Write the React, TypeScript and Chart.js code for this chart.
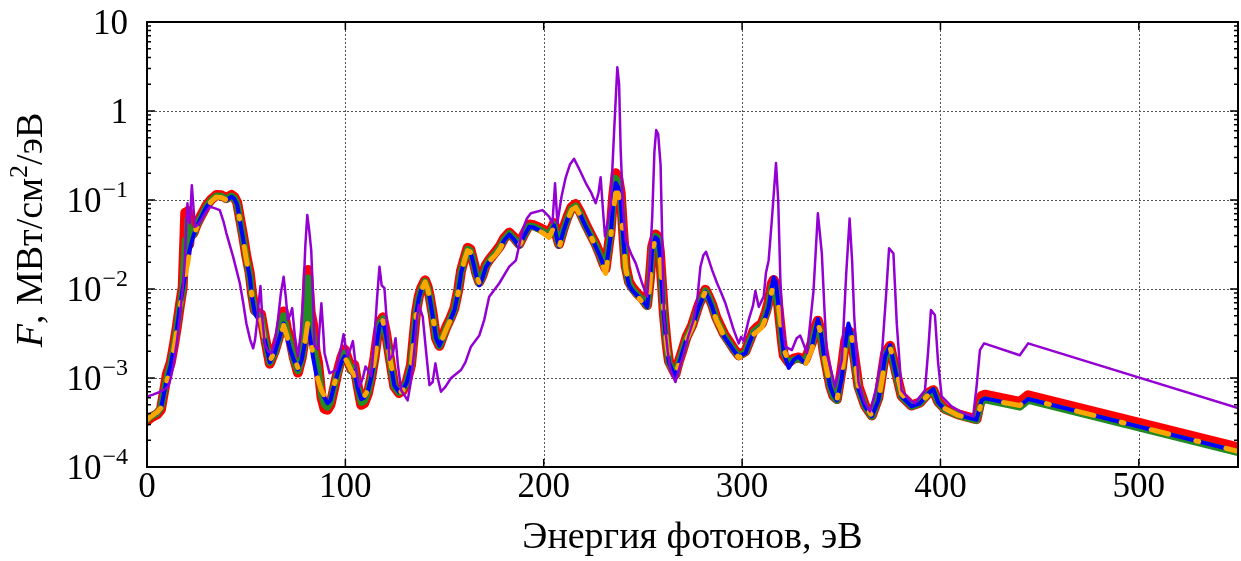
import React, { useEffect, useRef } from "react";
import { Chart, registerables } from "chart.js";

Chart.register(...registerables);

// ---------------- data ----------------
const energy = [
  0, 2, 5, 7, 9, 10, 12, 13.5, 15, 16.6,
  18, 19.3, 19.9, 20.6, 21.3, 22.1, 23.3, 25, 26.7, 28.5,
  30, 32.5, 35, 37.5, 40, 42.6, 44, 45.5, 47, 48.5,
  50, 51.8, 53, 54.3, 56, 57.5, 59.4, 61.9, 64.4, 66.9,
  68.9, 70.5, 71.9, 74, 76.1, 78, 79.5, 81.1, 82.5, 83.7,
  85, 86.2, 88, 89.5, 91, 92.5, 94.5, 96.2, 98, 99.6,
  101, 103, 104.5, 106.3, 108, 109.5, 111.3, 113, 114.7, 116,
  117.2, 118.9, 120.5, 122.2, 124.7, 127, 128.9, 131, 133.1, 134.5,
  135.7, 137, 138.2, 140.2, 141.5, 142.4, 144, 145.7, 147.4, 149,
  150.8, 153, 155, 157, 158.3, 160, 161.6, 163, 164.2, 166,
  167.5, 169, 170.8, 173, 175.9, 178, 180, 182.6, 185, 187.6,
  190, 192.7, 195, 197.7, 200, 202.7, 205.2, 206.5, 207.7, 210,
  211.9, 214, 216.1, 218.5, 221.2, 224, 226.2, 228.5, 230, 231.2,
  233.7, 235, 236.3, 237.5, 238.8, 240, 241.3, 243, 244.6, 247,
  249.6, 252.1, 253.5, 254.7, 256.4, 257.5, 258.5, 260.6, 262, 263.1,
  266.4, 268, 269.8, 272, 274.8, 278.2, 281.5, 283, 284.9, 287,
  289.1, 291, 293.3, 296, 298.3, 301.7, 304, 305.8, 308, 310,
  312, 313.4, 315, 315.9, 317, 318.4, 320, 321, 323.5, 326,
  328.5, 330, 331.9, 335.2, 337, 338.2, 339.5, 341.1, 344.4, 346,
  347.8, 350.3, 352, 353.6, 355, 356.2, 358.7, 362, 365.4, 368.7,
  370.5, 372.1, 374.6, 377.1, 380.4, 385.4, 389.7, 393.9, 396.4, 398.9,
  402.3, 409, 415.7, 418.2, 420.7, 422.4, 440, 444.2, 550,
];

const fluxRed = [
  3.3e-4, 3.6e-4, 3.9e-4, 4.4e-4, 8.0e-4, 1.1e-3, 1.5e-3, 2.3e-3, 3.7e-3, 6.6e-3,
  1.05e-2, 7.2e-2, 2.5e-2, 7.5e-2, 3.2e-2, 6.0e-2, 4.2e-2, 5.3e-2, 6.3e-2, 7.5e-2,
  8.7e-2, 0.102, 0.114, 0.113, 0.105, 0.114, 0.108, 0.093, 0.06, 0.039,
  0.024, 0.015, 8.8e-3, 5.8e-3, 5.4e-3, 5.2e-3, 2.9e-3, 1.45e-3, 2.0e-3, 3.1e-3,
  5.6e-3, 3.6e-3, 2.9e-3, 1.7e-3, 1.15e-3, 1.7e-3, 2.8e-3, 1.63e-2, 5.5e-3, 4.0e-3,
  2.0e-3, 1.5e-3, 6.0e-4, 4.5e-4, 4.4e-4, 5.0e-4, 8.0e-4, 1.2e-3, 1.7e-3, 2.1e-3,
  1.7e-3, 1.25e-3, 1.4e-3, 8.0e-4, 5.0e-4, 5.2e-4, 6.6e-4, 1.0e-3, 1.7e-3, 2.8e-3,
  4.2e-3, 4.8e-3, 3.2e-3, 1.8e-3, 8.0e-4, 6.8e-4, 7.2e-4, 9.2e-4, 1.4e-3, 3.0e-3,
  5.6e-3, 8.2e-3, 1.02e-2, 1.25e-2, 1.05e-2, 8.6e-3, 5.3e-3, 2.8e-3, 2.3e-3, 2.9e-3,
  3.7e-3, 4.7e-3, 6.1e-3, 1.0e-2, 1.6e-2, 2.2e-2, 2.9e-2, 2.8e-2, 2.2e-2, 1.5e-2,
  1.2e-2, 1.4e-2, 1.85e-2, 2.2e-2, 2.65e-2, 3.05e-2, 3.7e-2, 4.3e-2, 3.8e-2, 3.2e-2,
  4.1e-2, 5.3e-2, 5.2e-2, 4.9e-2, 4.6e-2, 4.2e-2, 5.5e-2, 4.0e-2, 3.2e-2, 4.8e-2,
  6.4e-2, 8.3e-2, 9.0e-2, 7.2e-2, 5.3e-2, 4.0e-2, 3.2e-2, 2.4e-2, 1.95e-2, 1.7e-2,
  4.5e-2, 0.11, 0.2, 0.18, 0.12, 4.5e-2, 1.8e-2, 1.2e-2, 1.05e-2, 9.0e-3,
  7.9e-3, 6.6e-3, 1.3e-2, 3.0e-2, 4.1e-2, 3.9e-2, 2.7e-2, 5.2e-3, 2.4e-3, 1.55e-3,
  1.1e-3, 1.5e-3, 2.0e-3, 2.9e-3, 3.9e-3, 6.7e-3, 9.8e-3, 8.4e-3, 6.7e-3, 4.8e-3,
  3.8e-3, 3.1e-3, 2.6e-3, 2.1e-3, 1.8e-3, 2.0e-3, 2.7e-3, 3.4e-3, 3.8e-3, 4.1e-3,
  5.5e-3, 7.2e-3, 1.15e-2, 1.26e-2, 1.15e-2, 6.0e-3, 2.7e-3, 1.8e-3, 1.5e-3, 1.65e-3,
  1.7e-3, 1.65e-3, 1.6e-3, 2.5e-3, 3.8e-3, 4.4e-3, 3.5e-3, 2.0e-3, 8.2e-4, 6.3e-4,
  5.8e-4, 1.3e-3, 2.6e-3, 3.4e-3, 3.2e-3, 2.0e-3, 8.0e-4, 4.9e-4, 3.8e-4, 6.0e-4,
  1.1e-3, 1.9e-3, 2.3e-3, 1.3e-3, 6.3e-4, 4.9e-4, 5.3e-4, 6.8e-4, 7.3e-4, 5.4e-4,
  4.5e-4, 3.9e-4, 3.55e-4, 3.45e-4, 6.3e-4, 6.5e-4, 5.4e-4, 6.4e-4, 1.66e-4,
];

const fluxGreen = [
  3.4e-4, 3.7e-4, 4.0e-4, 4.6e-4, 7.8e-4, 1.0e-3, 1.45e-3, 2.2e-3, 3.6e-3, 6.4e-3,
  1.0e-2, 3.5e-2, 2.0e-2, 6.0e-2, 3.0e-2, 4.0e-2, 4.0e-2, 5.1e-2, 6.1e-2, 7.3e-2,
  8.5e-2, 0.1, 0.111, 0.11, 0.102, 0.111, 0.105, 0.09, 0.057, 0.037,
  0.023, 0.014, 8.3e-3, 5.6e-3, 5.0e-3, 4.9e-3, 2.8e-3, 1.5e-3, 1.9e-3, 3.0e-3,
  5.0e-3, 3.3e-3, 2.6e-3, 1.6e-3, 1.2e-3, 1.65e-3, 2.6e-3, 1.33e-2, 4.5e-3, 3.0e-3,
  1.7e-3, 1.3e-3, 6.5e-4, 5.0e-4, 4.7e-4, 5.3e-4, 8.3e-4, 1.15e-3, 1.6e-3, 1.9e-3,
  1.6e-3, 1.2e-3, 1.3e-3, 7.8e-4, 5.3e-4, 5.5e-4, 6.8e-4, 1.0e-3, 1.65e-3, 2.7e-3,
  4.0e-3, 4.6e-3, 3.1e-3, 1.75e-3, 8.0e-4, 6.9e-4, 7.3e-4, 9.0e-4, 1.35e-3, 2.9e-3,
  5.4e-3, 8.0e-3, 9.9e-3, 1.22e-2, 1.02e-2, 8.4e-3, 5.1e-3, 2.8e-3, 2.3e-3, 2.8e-3,
  3.6e-3, 4.6e-3, 5.9e-3, 9.7e-3, 1.55e-2, 2.15e-2, 2.8e-2, 2.7e-2, 2.15e-2, 1.45e-2,
  1.15e-2, 1.35e-2, 1.8e-2, 2.15e-2, 2.55e-2, 2.95e-2, 3.6e-2, 4.2e-2, 3.7e-2, 3.1e-2,
  4.0e-2, 5.1e-2, 5.0e-2, 4.7e-2, 4.4e-2, 4.0e-2, 5.3e-2, 3.9e-2, 3.1e-2, 4.6e-2,
  6.1e-2, 8.0e-2, 8.6e-2, 6.9e-2, 5.1e-2, 3.9e-2, 3.1e-2, 2.35e-2, 1.9e-2, 1.65e-2,
  4.2e-2, 0.1, 0.175, 0.16, 0.11, 4.2e-2, 1.7e-2, 1.15e-2, 1.0e-2, 8.7e-3,
  7.6e-3, 6.4e-3, 1.25e-2, 2.9e-2, 3.9e-2, 3.7e-2, 2.6e-2, 5.0e-3, 2.35e-3, 1.5e-3,
  1.05e-3, 1.45e-3, 1.95e-3, 2.8e-3, 3.8e-3, 6.5e-3, 9.5e-3, 8.2e-3, 6.5e-3, 4.6e-3,
  3.7e-3, 3.0e-3, 2.5e-3, 2.05e-3, 1.75e-3, 1.95e-3, 2.65e-3, 3.3e-3, 3.6e-3, 3.9e-3,
  5.2e-3, 6.6e-3, 1.05e-2, 1.15e-2, 1.05e-2, 6.0e-3, 2.8e-3, 1.9e-3, 1.45e-3, 1.6e-3,
  1.65e-3, 1.6e-3, 1.55e-3, 2.4e-3, 3.5e-3, 4.2e-3, 3.3e-3, 1.9e-3, 8.0e-4, 6.2e-4,
  5.6e-4, 1.2e-3, 2.4e-3, 3.3e-3, 3.1e-3, 1.9e-3, 7.6e-4, 4.8e-4, 3.7e-4, 5.8e-4,
  1.05e-3, 1.8e-3, 2.2e-3, 1.25e-3, 6.2e-4, 4.8e-4, 5.2e-4, 6.6e-4, 7.2e-4, 5.3e-4,
  4.4e-4, 3.8e-4, 3.45e-4, 3.35e-4, 5.4e-4, 5.7e-4, 4.7e-4, 5.6e-4, 1.45e-4,
];

const fluxBlue = [
  3.4e-4, 3.7e-4, 4.0e-4, 4.5e-4, 7.5e-4, 9.5e-4, 1.4e-3, 2.2e-3, 3.5e-3, 6.3e-3,
  1.0e-2, 1.45e-2, 1.75e-2, 2.1e-2, 2.6e-2, 3.1e-2, 3.9e-2, 5.0e-2, 6.0e-2, 7.2e-2,
  8.4e-2, 9.8e-2, 0.109, 0.108, 0.100, 0.109, 0.103, 0.088, 0.055, 0.036,
  0.022, 0.0137, 8.0e-3, 5.4e-3, 4.6e-3, 4.6e-3, 2.7e-3, 1.5e-3, 1.9e-3, 2.9e-3,
  4.1e-3, 3.0e-3, 2.2e-3, 1.6e-3, 1.25e-3, 1.6e-3, 2.4e-3, 4.1e-3, 2.6e-3, 1.7e-3,
  1.2e-3, 9.1e-4, 7.0e-4, 6.0e-4, 5.2e-4, 5.6e-4, 8.5e-4, 1.15e-3, 1.5e-3, 1.75e-3,
  1.5e-3, 1.15e-3, 1.2e-3, 7.5e-4, 5.8e-4, 6.0e-4, 7.0e-4, 1.0e-3, 1.6e-3, 2.6e-3,
  3.8e-3, 4.5e-3, 3.0e-3, 1.75e-3, 8.2e-4, 7.0e-4, 7.3e-4, 9.0e-4, 1.35e-3, 2.8e-3,
  5.3e-3, 7.8e-3, 9.7e-3, 1.2e-2, 1.0e-2, 8.2e-3, 5.0e-3, 2.8e-3, 2.3e-3, 2.8e-3,
  3.5e-3, 4.5e-3, 5.8e-3, 9.5e-3, 1.5e-2, 2.1e-2, 2.7e-2, 2.6e-2, 2.1e-2, 1.4e-2,
  1.1e-2, 1.3e-2, 1.75e-2, 2.1e-2, 2.5e-2, 2.9e-2, 3.5e-2, 4.1e-2, 3.6e-2, 3.0e-2,
  3.9e-2, 5.0e-2, 4.9e-2, 4.6e-2, 4.3e-2, 3.9e-2, 5.2e-2, 3.8e-2, 3.0e-2, 4.5e-2,
  6.0e-2, 7.8e-2, 8.4e-2, 6.8e-2, 5.0e-2, 3.8e-2, 3.0e-2, 2.3e-2, 1.9e-2, 1.6e-2,
  3.9e-2, 9.0e-2, 0.155, 0.14, 0.1, 4.0e-2, 1.65e-2, 1.1e-2, 9.7e-3, 8.5e-3,
  7.5e-3, 6.3e-3, 1.2e-2, 2.8e-2, 3.8e-2, 3.6e-2, 2.5e-2, 4.9e-3, 2.3e-3, 1.5e-3,
  1.0e-3, 1.4e-3, 1.9e-3, 2.7e-3, 3.7e-3, 6.3e-3, 9.3e-3, 8.0e-3, 6.3e-3, 4.5e-3,
  3.6e-3, 2.9e-3, 2.45e-3, 2.0e-3, 1.75e-3, 1.9e-3, 2.6e-3, 3.2e-3, 3.5e-3, 3.8e-3,
  5.0e-3, 6.3e-3, 1.05e-2, 1.35e-2, 1.2e-2, 6.3e-3, 3.0e-3, 1.9e-3, 1.3e-3, 1.6e-3,
  1.75e-3, 1.6e-3, 1.45e-3, 2.25e-3, 3.5e-3, 4.6e-3, 3.5e-3, 1.9e-3, 8.0e-4, 6.5e-4,
  5.6e-4, 1.0e-3, 2.3e-3, 4.1e-3, 3.2e-3, 1.8e-3, 7.5e-4, 4.8e-4, 3.7e-4, 5.6e-4,
  1.0e-3, 1.75e-3, 2.35e-3, 1.25e-3, 6.2e-4, 4.8e-4, 5.2e-4, 6.7e-4, 7.5e-4, 5.3e-4,
  4.4e-4, 3.8e-4, 3.5e-4, 3.4e-4, 5.6e-4, 5.9e-4, 4.9e-4, 5.8e-4, 1.5e-4,
];

const fluxOrange = [
  3.4e-4, 3.7e-4, 4.1e-4, 4.6e-4, 7.2e-4, 9.3e-4, 1.4e-3, 2.1e-3, 3.4e-3, 6.0e-3,
  9.6e-3, 1.4e-2, 1.7e-2, 2.0e-2, 2.5e-2, 3.0e-2, 3.8e-2, 4.9e-2, 5.9e-2, 7.1e-2,
  8.3e-2, 9.7e-2, 0.108, 0.107, 0.1, 0.108, 0.102, 0.087, 0.055, 0.036,
  0.022, 0.0135, 8.0e-3, 5.3e-3, 4.5e-3, 4.5e-3, 2.6e-3, 1.55e-3, 2.0e-3, 2.7e-3,
  3.9e-3, 3.0e-3, 2.3e-3, 1.7e-3, 1.3e-3, 1.6e-3, 2.4e-3, 4.3e-3, 2.7e-3, 1.8e-3,
  1.3e-3, 9.5e-4, 7.2e-4, 6.2e-4, 5.4e-4, 5.8e-4, 8.7e-4, 1.15e-3, 1.5e-3, 1.7e-3,
  1.5e-3, 1.2e-3, 1.1e-3, 7.5e-4, 6.0e-4, 6.2e-4, 7.2e-4, 1.0e-3, 1.6e-3, 2.5e-3,
  3.7e-3, 4.4e-3, 3.0e-3, 1.8e-3, 8.5e-4, 6.8e-4, 7.2e-4, 8.8e-4, 1.3e-3, 2.7e-3,
  5.1e-3, 7.6e-3, 9.6e-3, 1.2e-2, 1.0e-2, 8.2e-3, 5.0e-3, 2.9e-3, 2.4e-3, 2.8e-3,
  3.5e-3, 4.5e-3, 5.8e-3, 9.4e-3, 1.5e-2, 2.1e-2, 2.7e-2, 2.6e-2, 2.1e-2, 1.45e-2,
  1.15e-2, 1.3e-2, 1.7e-2, 2.1e-2, 2.45e-2, 2.85e-2, 3.5e-2, 4.0e-2, 3.6e-2, 3.1e-2,
  3.8e-2, 4.8e-2, 4.8e-2, 4.5e-2, 4.2e-2, 3.8e-2, 5.0e-2, 3.6e-2, 2.9e-2, 4.4e-2,
  5.9e-2, 7.7e-2, 8.3e-2, 6.7e-2, 5.0e-2, 3.8e-2, 3.0e-2, 2.2e-2, 1.75e-2, 1.5e-2,
  3.6e-2, 7.5e-2, 0.12, 0.12, 0.09, 4.0e-2, 1.7e-2, 1.1e-2, 9.6e-3, 8.4e-3,
  7.2e-3, 5.9e-3, 1.1e-2, 2.7e-2, 3.7e-2, 3.6e-2, 2.6e-2, 5.2e-3, 2.4e-3, 1.6e-3,
  1.1e-3, 1.4e-3, 1.9e-3, 2.7e-3, 3.7e-3, 6.3e-3, 9.3e-3, 8.0e-3, 6.3e-3, 4.5e-3,
  3.6e-3, 2.9e-3, 2.45e-3, 1.95e-3, 1.7e-3, 1.85e-3, 2.5e-3, 3.1e-3, 3.4e-3, 3.7e-3,
  4.8e-3, 6.0e-3, 9.5e-3, 1.1e-2, 1.0e-2, 6.3e-3, 3.2e-3, 2.1e-3, 1.5e-3, 1.55e-3,
  1.6e-3, 1.55e-3, 1.4e-3, 2.1e-3, 3.3e-3, 4.1e-3, 3.3e-3, 1.9e-3, 7.8e-4, 6.3e-4,
  5.7e-4, 1.1e-3, 2.2e-3, 3.4e-3, 3.3e-3, 2.0e-3, 7.8e-4, 4.9e-4, 3.8e-4, 5.5e-4,
  9.5e-4, 1.6e-3, 2.2e-3, 1.4e-3, 6.6e-4, 5.0e-4, 5.2e-4, 6.5e-4, 7.0e-4, 5.5e-4,
  4.5e-4, 3.8e-4, 3.5e-4, 3.3e-4, 5.4e-4, 5.8e-4, 4.9e-4, 5.8e-4, 1.5e-4,
];

const energyViolet = [
  0, 3, 6.5, 9, 10.7, 12, 13.2, 15, 16.6, 18,
  19.1, 19.8, 20.4, 21, 21.6, 22.6, 23.3, 24.1, 25.5, 27.5,
  29.5, 31.7, 34, 36.7, 38.5, 40, 43.4, 46.8, 48.5, 50.1,
  52, 53.5, 54.5, 55.4, 56.3, 57.2, 58.2, 59.4, 61, 62.7,
  64.5, 66, 67.5, 68.9, 70, 71, 72, 73.2, 74.5, 76.1,
  77.5, 78.7, 79.8, 80.8, 81.8, 82.8, 83.7, 84.5, 86.2, 87.9,
  88.8, 89.5, 92, 95.4, 97.5, 99.1, 100.2, 101.3, 103.8, 105.5,
  107.1, 108.8, 110.2, 113, 114.5, 116, 117.2, 118.3, 119.7, 121,
  122.2, 123.8, 125.3, 126.5, 128.1, 131.4, 133, 134.8, 136, 137,
  139, 140.5, 142.4, 144, 145.4, 146.8, 148.2, 150.5, 153.3, 158.3,
  160.5, 163.3, 167.5, 170, 172.5, 177.6, 182.6, 186, 189.3, 191.5,
  193.5, 199.4, 202.7, 204.4, 205.7, 206.9, 209, 211.1, 213.2, 215.3,
  218, 221.2, 224, 226.2, 227.6, 228.7, 230, 230.9, 233.7, 235.5,
  237.1, 238, 238.8, 240, 241.3, 244, 246.4, 249.6, 252.1, 253.5,
  254.7, 255.8, 256.7, 257.7, 258.9, 260, 260.6, 262.5, 263.9, 266.4,
  268, 270.6, 273, 275.6, 277.5, 279, 280.5, 281.8, 283.3, 284.9,
  287.4, 289.5, 291.6, 293.8, 295.8, 298.3, 299.5, 300.8, 303.3, 305.5,
  306.7, 308.4, 310.9, 312, 313.4, 315, 317.1, 318.2, 319.3, 320.5,
  321.8, 325.1, 327.5, 329.3, 331, 332.7, 334.5, 336, 338.2, 340.2,
  341.5, 342.7, 346.9, 350.3, 352.5, 354.2, 355.5, 356.5, 358.7, 361.5,
  364.5, 367.5, 370.4, 372.5, 374.1, 376.3, 378, 380.4, 384, 387.1,
  392.2, 393.8, 395.2, 397.2, 398.8, 400.6, 405.6, 411, 416.5, 418.2,
  419.9, 422, 440, 444.2, 550,
];

const fluxViolet = [
  6.2e-4, 6.5e-4, 7.0e-4, 7.5e-4, 8.0e-4, 1.0e-3, 1.35e-3, 2.5e-3, 4.9e-3, 1.0e-2,
  2.1e-2, 5.5e-2, 9.2e-2, 6.0e-2, 5.5e-2, 0.146, 0.09, 0.05, 0.052, 0.06,
  0.072, 0.084, 0.081, 0.077, 0.058, 0.0425, 0.0231, 0.0116, 7.0e-3, 4.1e-3,
  2.7e-3, 2.15e-3, 2.7e-3, 4.1e-3, 7.0e-3, 0.0108, 4.5e-3, 2.4e-3, 2.0e-3, 1.9e-3,
  2.6e-3, 4.5e-3, 9.0e-3, 0.0137, 8.0e-3, 4.5e-3, 5.0e-3, 6.1e-3, 3.0e-3, 1.75e-3,
  3.2e-3, 7.5e-3, 0.03, 0.068, 0.045, 0.027, 8.0e-3, 2.3e-3, 2.1e-3, 6.9e-3,
  3.5e-3, 1.9e-3, 1.13e-3, 1.23e-3, 2.0e-3, 3.1e-3, 2.2e-3, 1.75e-3, 2.6e-3, 1.2e-3,
  8.0e-4, 1.0e-3, 1.35e-3, 1.05e-3, 2.5e-3, 8.0e-3, 0.0178, 0.011, 0.0102, 4.0e-3,
  1.6e-3, 1.8e-3, 2.8e-3, 1.4e-3, 7.3e-4, 5.6e-4, 9.0e-4, 2.1e-3, 4.5e-3, 6.6e-3,
  4.9e-3, 2.2e-3, 8.3e-4, 9.0e-4, 1.46e-3, 9.5e-4, 7.0e-4, 8.0e-4, 1.0e-3, 1.23e-3,
  1.5e-3, 2.25e-3, 3.0e-3, 4.5e-3, 8.2e-3, 0.0116, 0.0178, 0.021, 0.046, 0.062,
  0.071, 0.077, 0.065, 0.055, 0.154, 0.055, 0.11, 0.18, 0.25, 0.29,
  0.22, 0.155, 0.12, 0.092, 0.12, 0.18, 0.07, 0.039, 0.084, 0.6,
  3.1, 2.0, 0.36, 0.08, 0.0355, 0.025, 0.0194, 0.0116, 8.2e-3, 0.02,
  0.065, 0.35, 0.61, 0.55, 0.25, 0.02, 5.0e-3, 2.0e-3, 1.23e-3, 9.0e-4,
  1.2e-3, 1.9e-3, 3.0e-3, 4.5e-3, 8.0e-3, 0.0178, 0.024, 0.0262, 0.021, 0.0163,
  0.0116, 9.0e-3, 6.9e-3, 4.8e-3, 3.45e-3, 2.45e-3, 2.9e-3, 2.6e-3, 4.5e-3, 6.5e-3,
  9.5e-3, 6.3e-3, 8.2e-3, 0.015, 0.0211, 0.0596, 0.26, 0.1, 0.0126, 4.0e-3,
  2.25e-3, 2.06e-3, 2.8e-3, 3.0e-3, 2.4e-3, 1.9e-3, 4.5e-3, 9.5e-3, 0.071, 0.0251,
  6.0e-3, 1.9e-3, 8.0e-4, 1.6e-3, 0.015, 0.062, 0.02, 5.0e-3, 9.0e-4, 5.5e-4,
  4.2e-4, 7.5e-4, 1.74e-3, 8.0e-3, 0.0287, 0.025, 4.0e-3, 7.3e-4, 5.8e-4, 5.2e-4,
  7.3e-4, 2.0e-3, 5.8e-3, 5.1e-3, 1.5e-3, 6.2e-4, 4.8e-4, 4.1e-4, 3.7e-4, 8.0e-4,
  2.06e-3, 2.45e-3, 1.8e-3, 2.45e-3, 4.6e-4,
];

const xTickValues = [0, 100, 200, 300, 400, 500];
const yTickValues = [1e-4, 1e-3, 1e-2, 1e-1, 1, 10];
const yTickMantissas = ["10", "10", "10", "10", "1", "10"];
const yTickExponents = ["\u22124", "\u22123", "\u22122", "\u22121", "", ""];
const yMinorMultipliers = [2, 3, 4, 5, 6, 7, 8, 9];
const xTitle = "Энергия фотонов, эВ";
const yTitleParts = ["F", ", МВт/см", "2", "/эВ"];

const FONT = "'Liberation Serif', 'DejaVu Serif', serif";

export default function App() {
  const ref = useRef<HTMLCanvasElement>(null);

  useEffect(() => {
    const canvas = ref.current;
    if (!canvas) return;
    const pts = (xs: number[], ys: number[]) => xs.map((x, i) => ({ x, y: ys[i] }));

    const decorPlugin = {
      id: "decor",
      beforeDatasetsDraw(chart: any) {
        const { ctx, chartArea: a, scales } = chart;
        const xs = scales.x, ys = scales.y;
        ctx.save();
        ctx.strokeStyle = "#555";
        ctx.lineWidth = 1;
        ctx.setLineDash([2, 2]);
        for (const v of xTickValues) {
          if (v === 0) continue;
          const px = Math.round(xs.getPixelForValue(v)) + 0.5;
          ctx.beginPath();
          ctx.moveTo(px, a.top);
          ctx.lineTo(px, a.bottom);
          ctx.stroke();
        }
        for (const v of yTickValues) {
          if (v === 1e-4 || v === 10) continue;
          const py = Math.round(ys.getPixelForValue(v)) + 0.5;
          ctx.beginPath();
          ctx.moveTo(a.left, py);
          ctx.lineTo(a.right, py);
          ctx.stroke();
        }
        ctx.restore();
      },
      afterDatasetsDraw(chart: any) {
        const { ctx, chartArea: a, scales } = chart;
        const xs = scales.x, ys = scales.y;
        ctx.save();
        ctx.strokeStyle = "#000";
        ctx.lineWidth = 1.5;
        ctx.setLineDash([]);
        for (const d of yTickValues) {
          const py = ys.getPixelForValue(d);
          ctx.beginPath();
          ctx.moveTo(a.left, py); ctx.lineTo(a.left + 8, py);
          ctx.moveTo(a.right, py); ctx.lineTo(a.right - 8, py);
          ctx.stroke();
          if (d >= 10) continue;
          for (const m of yMinorMultipliers) {
            const pm = ys.getPixelForValue(d * m);
            ctx.beginPath();
            ctx.moveTo(a.left, pm); ctx.lineTo(a.left + 4, pm);
            ctx.moveTo(a.right, pm); ctx.lineTo(a.right - 4, pm);
            ctx.stroke();
          }
        }
        for (const v of xTickValues) {
          const px = xs.getPixelForValue(v);
          ctx.beginPath();
          ctx.moveTo(px, a.bottom); ctx.lineTo(px, a.bottom - 8);
          ctx.moveTo(px, a.top); ctx.lineTo(px, a.top + 8);
          ctx.stroke();
        }
        ctx.lineWidth = 2;
        ctx.strokeRect(a.left, a.top, a.right - a.left, a.bottom - a.top);
        ctx.restore();
      },
      afterDraw(chart: any) {
        const { ctx, chartArea: a, scales } = chart;
        const ys = scales.y;
        ctx.save();
        ctx.fillStyle = "#000";
        ctx.textBaseline = "alphabetic";
        // y tick labels: mantissa + raised exponent
        const rightEdge = a.left - 19;
        yTickValues.forEach((v, i) => {
          const py = ys.getPixelForValue(v);
          ctx.font = `24px ${FONT}`;
          const ew = yTickExponents[i] ? ctx.measureText(yTickExponents[i]).width : 0;
          ctx.font = `35px ${FONT}`;
          ctx.textAlign = "right";
          ctx.fillText(yTickMantissas[i], rightEdge - ew - (ew ? 1 : 0), py + 12);
          if (ew) {
            ctx.font = `24px ${FONT}`;
            ctx.textAlign = "left";
            ctx.fillText(yTickExponents[i], rightEdge - ew, py - 3);
          }
        });
        ctx.textAlign = "left";
        // y axis title
        const big = `38px ${FONT}`;
        const it = `italic 38px ${FONT}`;
        const small = `26px ${FONT}`;
        const fonts = [it, big, small, big];
        const widths = yTitleParts.map((t, i) => { ctx.font = fonts[i]; return ctx.measureText(t).width; });
        const total = widths.reduce((s, w) => s + w, 0);
        ctx.translate(42, 230);
        ctx.rotate(-Math.PI / 2);
        let x = -total / 2;
        yTitleParts.forEach((t, i) => {
          ctx.font = fonts[i];
          ctx.fillText(t, x, i === 2 ? -15 : 0);
          x += widths[i];
        });
        ctx.restore();
      },
    };

    const common = { pointRadius: 0, tension: 0, fill: false, borderJoinStyle: "round", borderCapStyle: "round" };

    const chart = new Chart(canvas, {
      type: "line",
      data: {
        datasets: [
          { ...common, label: "violet", data: pts(energyViolet, fluxViolet), borderColor: "#9400d3", borderWidth: 2.5, order: 0 },
          { ...common, label: "orange", data: pts(energy, fluxOrange), borderColor: "#ffa500", borderWidth: 5, borderDash: [18, 28, 3, 28], order: 1 },
          { ...common, label: "blue", data: pts(energy, fluxBlue), borderColor: "#0000ff", borderWidth: 4, order: 2 },
          { ...common, label: "green", data: pts(energy, fluxGreen), borderColor: "#228b22", borderWidth: 7, order: 3 },
          { ...common, label: "red", data: pts(energy, fluxRed), borderColor: "#ff0000", borderWidth: 10, order: 4 },
        ] as any,
      },
      options: {
        responsive: false,
        animation: false,
        devicePixelRatio: 1,
        events: [],
        layout: { padding: { top: 22, right: 3, left: 0, bottom: 0 } },
        plugins: { legend: { display: false }, tooltip: { enabled: false }, title: { display: false } },
        scales: {
          x: {
            type: "linear",
            min: 0,
            max: 550,
            afterBuildTicks: (s: any) => { s.ticks = xTickValues.map((v) => ({ value: v })); },
            afterFit: (s: any) => { s.height = 94; },
            grid: { display: false, drawTicks: false },
            border: { display: false },
            ticks: { color: "#000", font: { family: FONT, size: 35 }, padding: 0, maxRotation: 0, autoSkip: false },
            title: { display: true, text: xTitle, color: "#000", font: { family: FONT, size: 38 }, padding: { top: 0, bottom: 0 } },
          },
          y: {
            type: "logarithmic",
            min: 1e-4,
            max: 10,
            afterBuildTicks: (s: any) => { s.ticks = yTickValues.map((v) => ({ value: v })); },
            afterFit: (s: any) => { s.width = 147; },
            grid: { display: false, drawTicks: false },
            border: { display: false },
            ticks: { display: false },
          },
        },
      } as any,
      plugins: [decorPlugin],
    });

    return () => chart.destroy();
  }, []);

  return (
    <div style={{ position: "fixed", left: 0, top: 0, width: 1241, height: 561, background: "#fff" }}>
      <canvas ref={ref} width={1241} height={561} style={{ width: 1241, height: 561, display: "block" }} />
    </div>
  );
}
